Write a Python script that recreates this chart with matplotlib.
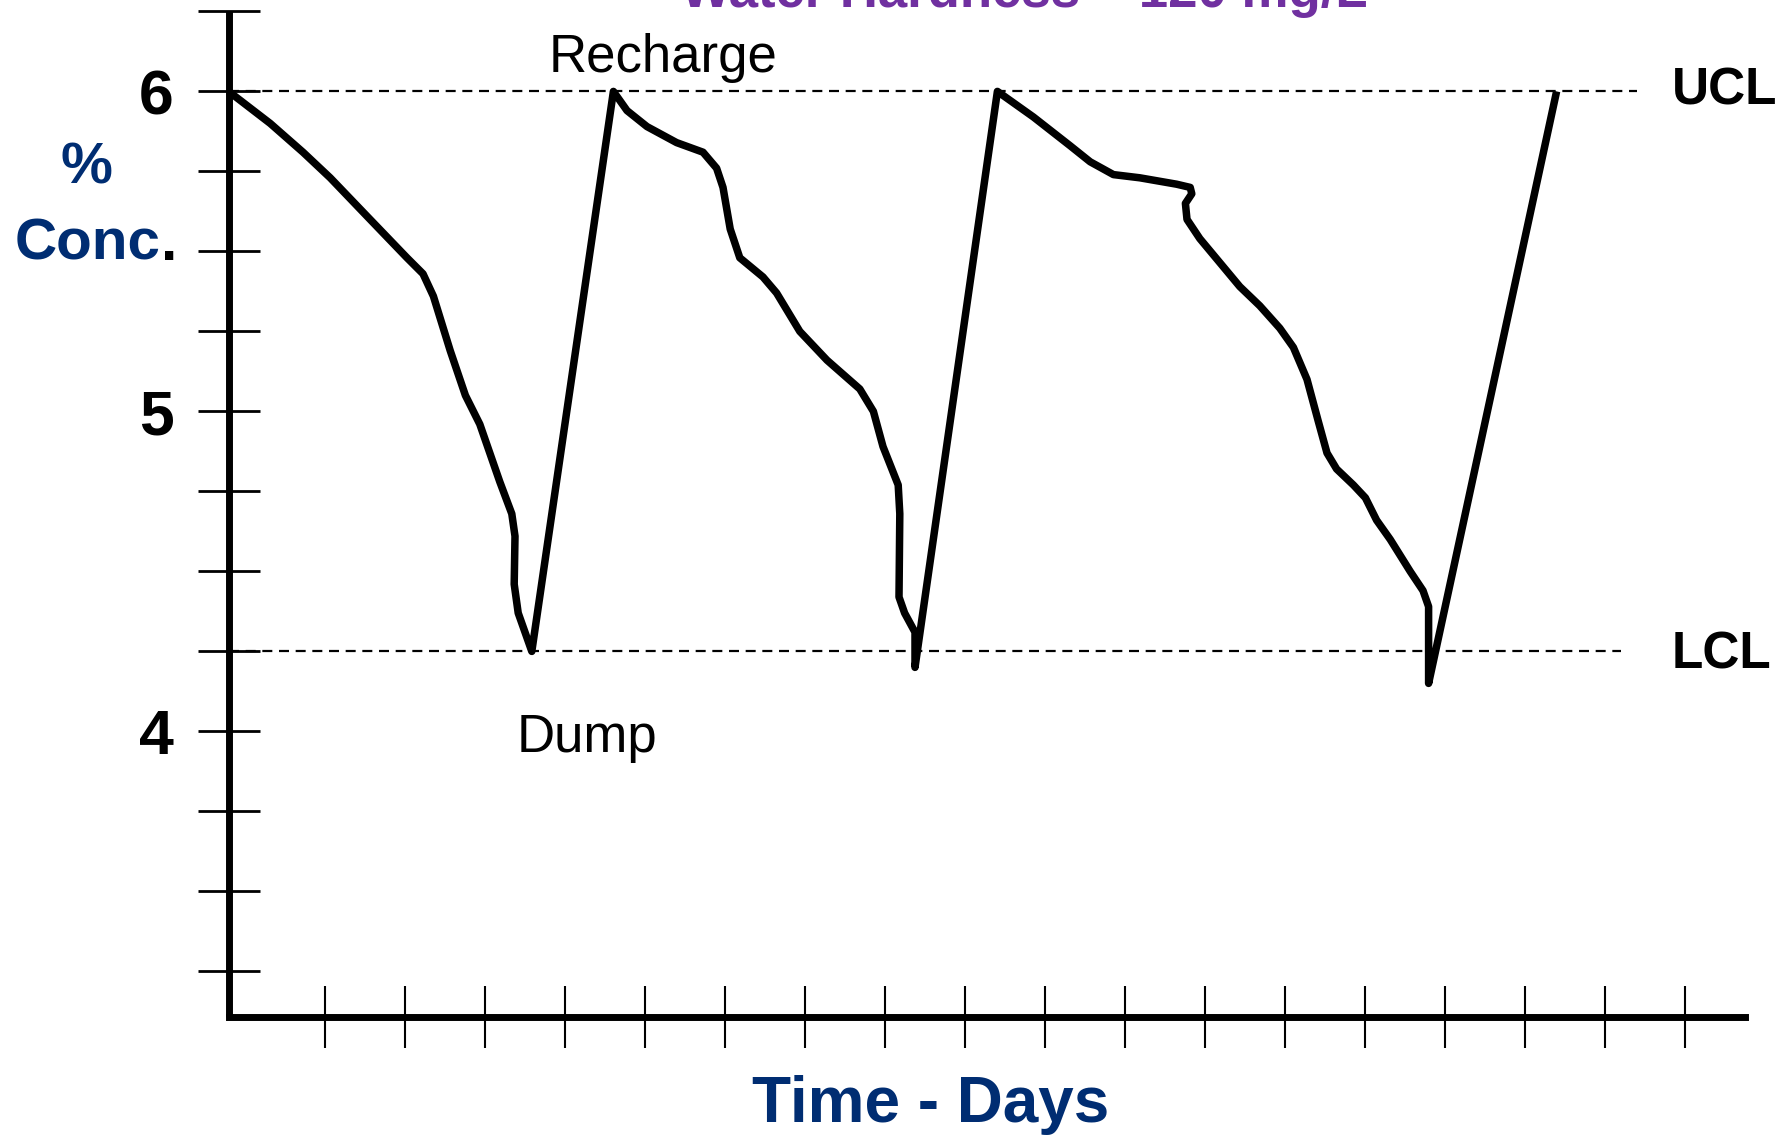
"""
Control chart: % concentration of a bath between the upper and lower control
limits, with dump / recharge cycles. Rendered to out.png (1792x1138).
"""
import matplotlib

matplotlib.use("Agg")
import matplotlib.pyplot as plt  # noqa: E402
import numpy as np  # noqa: E402

plt.rcParams["font.family"] = ["Liberation Sans", "DejaVu Sans"]

# x is measured in day-tick spacings from the y axis
days = [
    0.00, 0.52, 0.93, 1.27, 1.73, 2.23, 2.43, 2.56, 2.77, 2.96, 3.14, 3.39,
    3.54, 3.58, 3.57, 3.62, 3.79,
    4.81, 4.98, 5.23, 5.60, 5.93, 6.10, 6.18, 6.27, 6.39, 6.68, 6.85, 7.14,
    7.48, 7.89, 8.06, 8.18, 8.37, 8.39, 8.38, 8.45, 8.58, 8.58,
    9.61, 10.06, 10.52, 10.77, 11.06, 11.39, 11.85, 12.02, 12.04, 11.96,
    11.98, 12.14, 12.64, 12.89, 13.14, 13.31, 13.48, 13.62, 13.73, 13.85,
    14.06, 14.21, 14.35, 14.52, 14.77, 14.93, 15.00, 15.00, 15.00,
    16.60,
]
conc = [
    6.00, 5.90, 5.81, 5.73, 5.61, 5.48, 5.43, 5.36, 5.19, 5.05, 4.96, 4.78,
    4.68, 4.61, 4.46, 4.37, 4.25,
    6.00, 5.94, 5.89, 5.84, 5.81, 5.76, 5.70, 5.57, 5.48, 5.42, 5.37, 5.25,
    5.16, 5.07, 5.00, 4.89, 4.77, 4.68, 4.42, 4.37, 4.31, 4.20,
    6.00, 5.92, 5.83, 5.78, 5.74, 5.73, 5.71, 5.70, 5.68, 5.65,
    5.60, 5.54, 5.39, 5.33, 5.26, 5.20, 5.10, 4.97, 4.87, 4.82,
    4.77, 4.73, 4.66, 4.60, 4.50, 4.44, 4.39, 4.26, 4.15,
    6.00,
]

ucl, lcl = 6.0, 4.25
ucl_end, lcl_end = 17.6, 17.4

x_ticks = 1.2 + np.arange(18)
y_ticks = np.arange(3.25, 6.26, 0.25)
y_tick_labels = {6.0: "6", 5.0: "5", 4.0: "4"}

NAVY = "#002D72"
PURPLE = "#7030A0"

W, H = 1792, 1138
fig = plt.figure(figsize=(W / 100, H / 100), dpi=100)
ax = fig.add_axes([228.6 / W, 1 - 1017 / H, (1745 - 228.6) / W, (1017 - 11.4) / H])
ax.set_xlim(0, 18.955)
ax.set_ylim(3.1075, 6.25)

ax.plot(days, conc, color="black", lw=5.4, solid_joinstyle="round",
        solid_capstyle="butt", clip_on=False, zorder=3)
ax.hlines(ucl, 0, ucl_end, colors="black", lw=1.6, linestyles=(0, (4.5, 3.0)))
ax.hlines(lcl, 0, lcl_end, colors="black", lw=1.6, linestyles=(0, (4.5, 3.0)))

for side in ("top", "right"):
    ax.spines[side].set_visible(False)
for side in ("left", "bottom"):
    ax.spines[side].set_linewidth(5)
    ax.spines[side].set_color("black")
ax.spines["left"].set_capstyle("butt")

ax.set_xticks(x_ticks)
ax.set_xticklabels([])
ax.tick_params(axis="x", direction="inout", length=45, width=1.5, color="black")

ax.set_yticks(y_ticks)
ax.set_yticklabels([y_tick_labels.get(round(v, 2), "") for v in y_ticks],
                   fontsize=45, fontweight="bold")
ax.tick_params(axis="y", direction="inout", length=45, width=2.0, color="black", pad=17)

ax.text(5.43, 6.062, "Recharge", ha="center", va="baseline", fontsize=38)
ax.text(4.476, 3.937, "Dump", ha="center", va="baseline", fontsize=38)
ax.text(18.04, 5.96, "UCL", ha="left", va="baseline", fontsize=37, fontweight="bold")
ax.text(18.04, 4.198, "LCL", ha="left", va="baseline", fontsize=37, fontweight="bold")

fig.text(86 / W, 1 - 183 / H, "%", ha="center", va="baseline", color=NAVY,
         fontsize=42, fontweight="bold")
conc_lbl = fig.text(15 / W, 1 - 260 / H, "Conc", ha="left", va="baseline", color=NAVY,
                    fontsize=42, fontweight="bold")
ax.annotate(".", xy=(1, 1 - 260 / H), xycoords=(conc_lbl, "figure fraction"),
            ha="left", va="baseline", color="black", fontsize=42, fontweight="bold",
            annotation_clip=False)

fig.text(931 / W, 1 - 1122 / H, "Time - Days", ha="center", va="baseline", color=NAVY,
         fontsize=46, fontweight="bold")
# title sits mostly above the top edge in the original slide
fig.text(1024 / W, 1 - 7 / H, "Water Hardness \u2013 120 mg/L", ha="center",
         va="baseline", color=PURPLE, fontsize=38, fontweight="bold")

fig.savefig("out.png", dpi=100)
plt.close(fig)
